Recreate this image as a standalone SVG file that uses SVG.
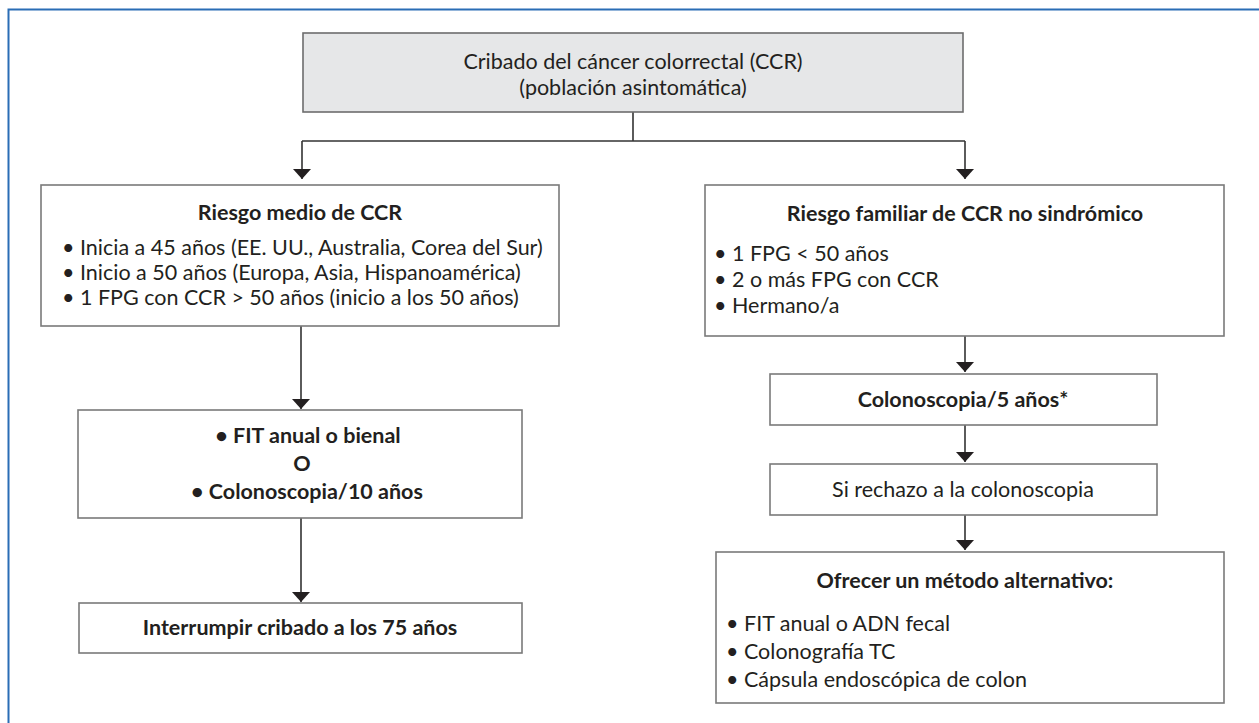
<svg xmlns="http://www.w3.org/2000/svg" width="1259" height="723" viewBox="0 0 1259 723">
<defs>
<style>
.box{fill:#ffffff;stroke:#7a7a7a;stroke-width:1.6}
.gbox{fill:#e6e7e8;stroke:#6d6d6d;stroke-width:1.6}
.t{font-family:Lato,"Noto Sans","Liberation Sans",sans-serif;font-size:21.5px;fill:#231f20}
.b{font-weight:bold}
.c{text-anchor:middle}
.ln{fill:none;stroke:#333333;stroke-width:1.6}
</style>
<marker id="ah" markerWidth="10" markerHeight="18" refX="10" refY="9" orient="auto" markerUnits="userSpaceOnUse" viewBox="0 0 10 18">
<path d="M0,0 L10,9 L0,18 Z" fill="#231f20"/>
</marker>
</defs>
<rect width="1259" height="723" fill="#ffffff"/>
<path d="M8.5,723 V9.5 H1259" fill="none" stroke="#2a6db5" stroke-width="2"/>

<g id="connectors">
<path class="ln" d="M633,112 V141"/>
<path class="ln" d="M302,141 H965"/>
<path class="ln" d="M302,141 V179" marker-end="url(#ah)"/>
<path class="ln" d="M965,141 V179" marker-end="url(#ah)"/>
<path class="ln" d="M301,326 V409" marker-end="url(#ah)"/>
<path class="ln" d="M301,518 V602" marker-end="url(#ah)"/>
<path class="ln" d="M965,336 V372" marker-end="url(#ah)"/>
<path class="ln" d="M965,425 V462" marker-end="url(#ah)"/>
<path class="ln" d="M965,515 V550" marker-end="url(#ah)"/>
</g>

<g id="n-top">
<rect class="gbox" x="303" y="33" width="660" height="79"/>
<text class="t c" x="633" y="69">Cribado del cáncer colorrectal (CCR)</text>
<text class="t c" x="633" y="95">(población asintomática)</text>
</g>

<g id="n-medio">
<rect class="box" x="41" y="185" width="518" height="141"/>
<text class="t b c" x="300" y="220">Riesgo medio de CCR</text>
<text class="t" x="62" y="255">• Inicia a 45 años (EE. UU., Australia, Corea del Sur)</text>
<text class="t" x="62" y="280">• Inicio a 50 años (Europa, Asia, Hispanoamérica)</text>
<text class="t" x="62" y="305">• 1 FPG con CCR &gt; 50 años (inicio a los 50 años)</text>
</g>

<g id="n-fit">
<rect class="box" x="78" y="410" width="444" height="108"/>
<text class="t b c" x="308" y="443">• FIT anual o bienal</text>
<text class="t b c" x="302" y="471">O</text>
<text class="t b c" x="307" y="499">• Colonoscopia/10 años</text>
</g>

<g id="n-interrumpir">
<rect class="box" x="79" y="603" width="443" height="50"/>
<text class="t b c" x="300" y="635">Interrumpir cribado a los 75 años</text>
</g>

<g id="n-familiar">
<rect class="box" x="705" y="185" width="519" height="151"/>
<text class="t b c" x="965" y="221">Riesgo familiar de CCR no sindrómico</text>
<text class="t" x="714" y="261">• 1 FPG &lt; 50 años</text>
<text class="t" x="714" y="287">• 2 o más FPG con CCR</text>
<text class="t" x="714" y="313">• Hermano/a</text>
</g>

<g id="n-colono5">
<rect class="box" x="770" y="374" width="387" height="51"/>
<text class="t b c" x="963" y="407">Colonoscopia/5 años*</text>
</g>

<g id="n-rechazo">
<rect class="box" x="770" y="464" width="387" height="51"/>
<text class="t c" x="963" y="497">Si rechazo a la colonoscopia</text>
</g>

<g id="n-ofrecer">
<rect class="box" x="716" y="552" width="508" height="151"/>
<text class="t b c" x="965" y="588">Ofrecer un método alternativo:</text>
<text class="t" x="726" y="631">• FIT anual o ADN fecal</text>
<text class="t" x="726" y="659">• Colonografía TC</text>
<text class="t" x="726" y="687">• Cápsula endoscópica de colon</text>
</g>
</svg>
